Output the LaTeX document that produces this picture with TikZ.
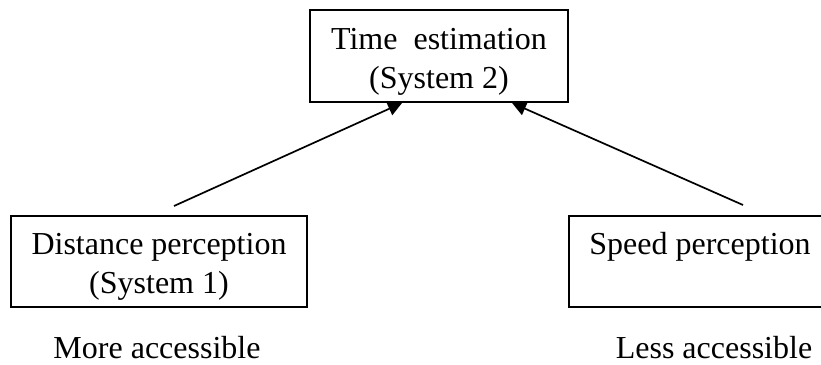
\documentclass[tikz,border=0pt]{standalone}
\usepackage{fontspec}
\setmainfont{Liberation Serif}
\usetikzlibrary{arrows.meta,calc}
\begin{document}
\begin{tikzpicture}[x=1pt,y=-1pt,
  box/.style={draw, line width=1.9pt, rectangle, inner sep=0pt},
  lbl/.style={font=\fontsize{32}{39}\selectfont, align=center, inner sep=0pt, anchor=base},
  arr/.style={line width=1.7pt, -{Triangle[length=14pt,width=14pt]}}]
\useasboundingbox (0,0) rectangle (821,364);
\clip (0,0) rectangle (821,364);
% boxes
\node[box, minimum width=258pt, minimum height=92pt] (top) at (439,56) {};
\node[box, minimum width=296pt, minimum height=91pt] (dist) at (159,261.5) {};
\node[box, minimum width=262pt, minimum height=91pt] (speed) at (700,261.5) {};
% texts (base anchor = baseline of the last line)
\node[lbl] (toptext) at ($(top.north)+(0,79)$) {Time~ estimation\\(System 2)};
\node[lbl] (disttext) at ($(dist.north)+(0,78)$) {Distance perception\\(System 1)};
\node[lbl] (speedtext) at ($(speed.north)+(0,39)$) {Speed perception};
\node[lbl] (more) at (157,358) {More accessible};
\node[lbl] (less) at (714,358) {Less accessible};
% connectors
\coordinate (ltail) at (174,206);
\coordinate (rtail) at (743,205);
\draw[arr] (ltail) -- ($(top.south west)+(93,0)$);
\draw[arr] (rtail) -- ($(top.south west)+(203,0)$);
\end{tikzpicture}
\end{document}
